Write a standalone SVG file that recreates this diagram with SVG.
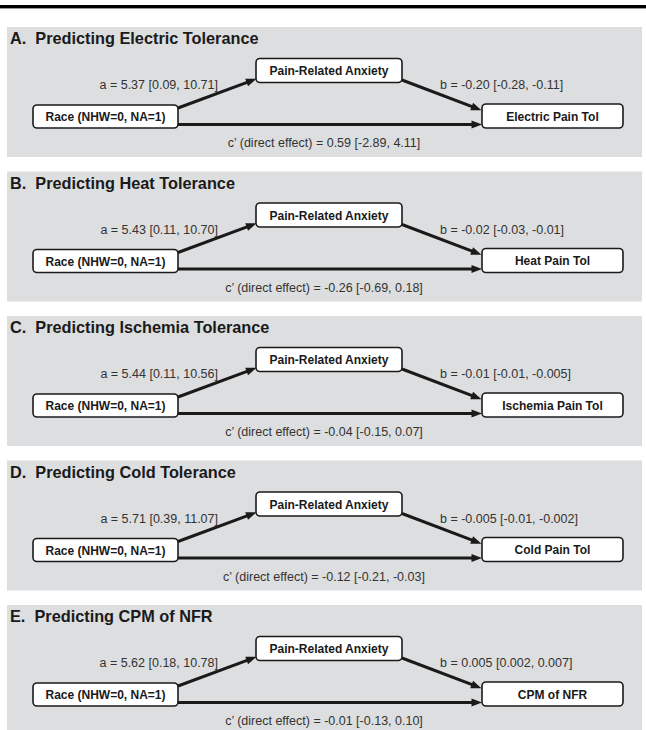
<svg xmlns="http://www.w3.org/2000/svg" width="646" height="730" viewBox="0 0 646 730">
<style>
.bg{fill:#dddedf;}
.title{font-family:"Liberation Sans",Arial,sans-serif;font-weight:bold;font-size:16.3px;fill:#1a1a1a;white-space:pre;}
.box{fill:#ffffff;stroke:#1a1a1a;stroke-width:1.6;}
.bt{font-family:"Liberation Sans",Arial,sans-serif;font-weight:bold;font-size:12px;fill:#1a1a1a;text-anchor:middle;}
.lab{font-family:"Liberation Sans",Arial,sans-serif;font-size:12.5px;fill:#333333;}
.mid{text-anchor:middle;}
.end{text-anchor:end;}
.conn line{stroke:#1a1a1a;stroke-width:3;marker-end:url(#ah);}
</style>
<defs>
<marker id="ah" markerUnits="userSpaceOnUse" markerWidth="12" markerHeight="10" refX="4" refY="4" orient="auto" overflow="visible">
<path d="M0,0 L10.5,4 L0,8 z" fill="#1a1a1a"/>
</marker>
</defs>
<rect x="0" y="5" width="646" height="3.4" fill="#000000"/>

<g id="panelA" transform="translate(0,27)">
<rect class="bg" x="7" y="0" width="635" height="130"/>
<text class="title" x="10" y="17">A.  Predicting Electric Tolerance</text>
<g id="A-connectors" class="conn">
<line x1="178" y1="81" x2="250.4" y2="54.1"/>
<line x1="402" y1="53" x2="475.4" y2="80.9"/>
<line x1="178" y1="97.5" x2="475.5" y2="97.5"/>
</g>
<text class="lab end" x="218" y="62">a = 5.37 [0.09, 10.71]</text>
<text class="lab" x="440" y="62">b = -0.20 [-0.28, -0.11]</text>
<text class="lab mid" x="324" y="120">c’ (direct effect) = 0.59 [-2.89, 4.11]</text>
<g id="A-mediator"><rect class="box" x="256" y="31.5" width="146" height="24" rx="4"/><text class="bt" x="329" y="48">Pain-Related Anxiety</text></g>
<g id="A-race"><rect class="box" x="33" y="78" width="145" height="23" rx="4"/><text class="bt" x="105.5" y="94">Race (NHW=0, NA=1)</text></g>
<g id="A-outcome"><rect class="box" x="482" y="77" width="141" height="24" rx="4"/><text class="bt" x="552.5" y="93.5">Electric Pain Tol</text></g>
</g>

<g id="panelB" transform="translate(0,171.5)">
<rect class="bg" x="7" y="0" width="635" height="130"/>
<text class="title" x="10" y="17">B.  Predicting Heat Tolerance</text>
<g id="B-connectors" class="conn">
<line x1="178" y1="81" x2="250.4" y2="54.1"/>
<line x1="402" y1="53" x2="475.4" y2="80.9"/>
<line x1="178" y1="97.5" x2="475.5" y2="97.5"/>
</g>
<text class="lab end" x="218" y="62">a = 5.43 [0.11, 10.70]</text>
<text class="lab" x="440" y="62">b = -0.02 [-0.03, -0.01]</text>
<text class="lab mid" x="324" y="120">c’ (direct effect) = -0.26 [-0.69, 0.18]</text>
<g id="B-mediator"><rect class="box" x="256" y="31.5" width="146" height="24" rx="4"/><text class="bt" x="329" y="48">Pain-Related Anxiety</text></g>
<g id="B-race"><rect class="box" x="33" y="78" width="145" height="23" rx="4"/><text class="bt" x="105.5" y="94">Race (NHW=0, NA=1)</text></g>
<g id="B-outcome"><rect class="box" x="482" y="77" width="141" height="24" rx="4"/><text class="bt" x="552.5" y="93.5">Heat Pain Tol</text></g>
</g>

<g id="panelC" transform="translate(0,316)">
<rect class="bg" x="7" y="0" width="635" height="130"/>
<text class="title" x="10" y="17">C.  Predicting Ischemia Tolerance</text>
<g id="C-connectors" class="conn">
<line x1="178" y1="81" x2="250.4" y2="54.1"/>
<line x1="402" y1="53" x2="475.4" y2="80.9"/>
<line x1="178" y1="97.5" x2="475.5" y2="97.5"/>
</g>
<text class="lab end" x="218" y="62">a = 5.44 [0.11, 10.56]</text>
<text class="lab" x="440" y="62">b = -0.01 [-0.01, -0.005]</text>
<text class="lab mid" x="324" y="120">c’ (direct effect) = -0.04 [-0.15, 0.07]</text>
<g id="C-mediator"><rect class="box" x="256" y="31.5" width="146" height="24" rx="4"/><text class="bt" x="329" y="48">Pain-Related Anxiety</text></g>
<g id="C-race"><rect class="box" x="33" y="78" width="145" height="23" rx="4"/><text class="bt" x="105.5" y="94">Race (NHW=0, NA=1)</text></g>
<g id="C-outcome"><rect class="box" x="482" y="77" width="141" height="24" rx="4"/><text class="bt" x="552.5" y="93.5">Ischemia Pain Tol</text></g>
</g>

<g id="panelD" transform="translate(0,460.5)">
<rect class="bg" x="7" y="0" width="635" height="130"/>
<text class="title" x="10" y="17">D.  Predicting Cold Tolerance</text>
<g id="D-connectors" class="conn">
<line x1="178" y1="81" x2="250.4" y2="54.1"/>
<line x1="402" y1="53" x2="475.4" y2="80.9"/>
<line x1="178" y1="97.5" x2="475.5" y2="97.5"/>
</g>
<text class="lab end" x="218" y="62">a = 5.71 [0.39, 11.07]</text>
<text class="lab" x="440" y="62">b = -0.005 [-0.01, -0.002]</text>
<text class="lab mid" x="324" y="120">c’ (direct effect) = -0.12 [-0.21, -0.03]</text>
<g id="D-mediator"><rect class="box" x="256" y="31.5" width="146" height="24" rx="4"/><text class="bt" x="329" y="48">Pain-Related Anxiety</text></g>
<g id="D-race"><rect class="box" x="33" y="78" width="145" height="23" rx="4"/><text class="bt" x="105.5" y="94">Race (NHW=0, NA=1)</text></g>
<g id="D-outcome"><rect class="box" x="482" y="77" width="141" height="24" rx="4"/><text class="bt" x="552.5" y="93.5">Cold Pain Tol</text></g>
</g>

<g id="panelE" transform="translate(0,605)">
<rect class="bg" x="7" y="0" width="635" height="130"/>
<text class="title" x="10" y="17">E.  Predicting CPM of NFR</text>
<g id="E-connectors" class="conn">
<line x1="178" y1="81" x2="250.4" y2="54.1"/>
<line x1="402" y1="53" x2="475.4" y2="80.9"/>
<line x1="178" y1="97.5" x2="475.5" y2="97.5"/>
</g>
<text class="lab end" x="218" y="62">a = 5.62 [0.18, 10.78]</text>
<text class="lab" x="440" y="62">b = 0.005 [0.002, 0.007]</text>
<text class="lab mid" x="324" y="120">c’ (direct effect) = -0.01 [-0.13, 0.10]</text>
<g id="E-mediator"><rect class="box" x="256" y="31.5" width="146" height="24" rx="4"/><text class="bt" x="329" y="48">Pain-Related Anxiety</text></g>
<g id="E-race"><rect class="box" x="33" y="78" width="145" height="23" rx="4"/><text class="bt" x="105.5" y="94">Race (NHW=0, NA=1)</text></g>
<g id="E-outcome"><rect class="box" x="482" y="77" width="141" height="24" rx="4"/><text class="bt" x="552.5" y="93.5">CPM of NFR</text></g>
</g>
</svg>
